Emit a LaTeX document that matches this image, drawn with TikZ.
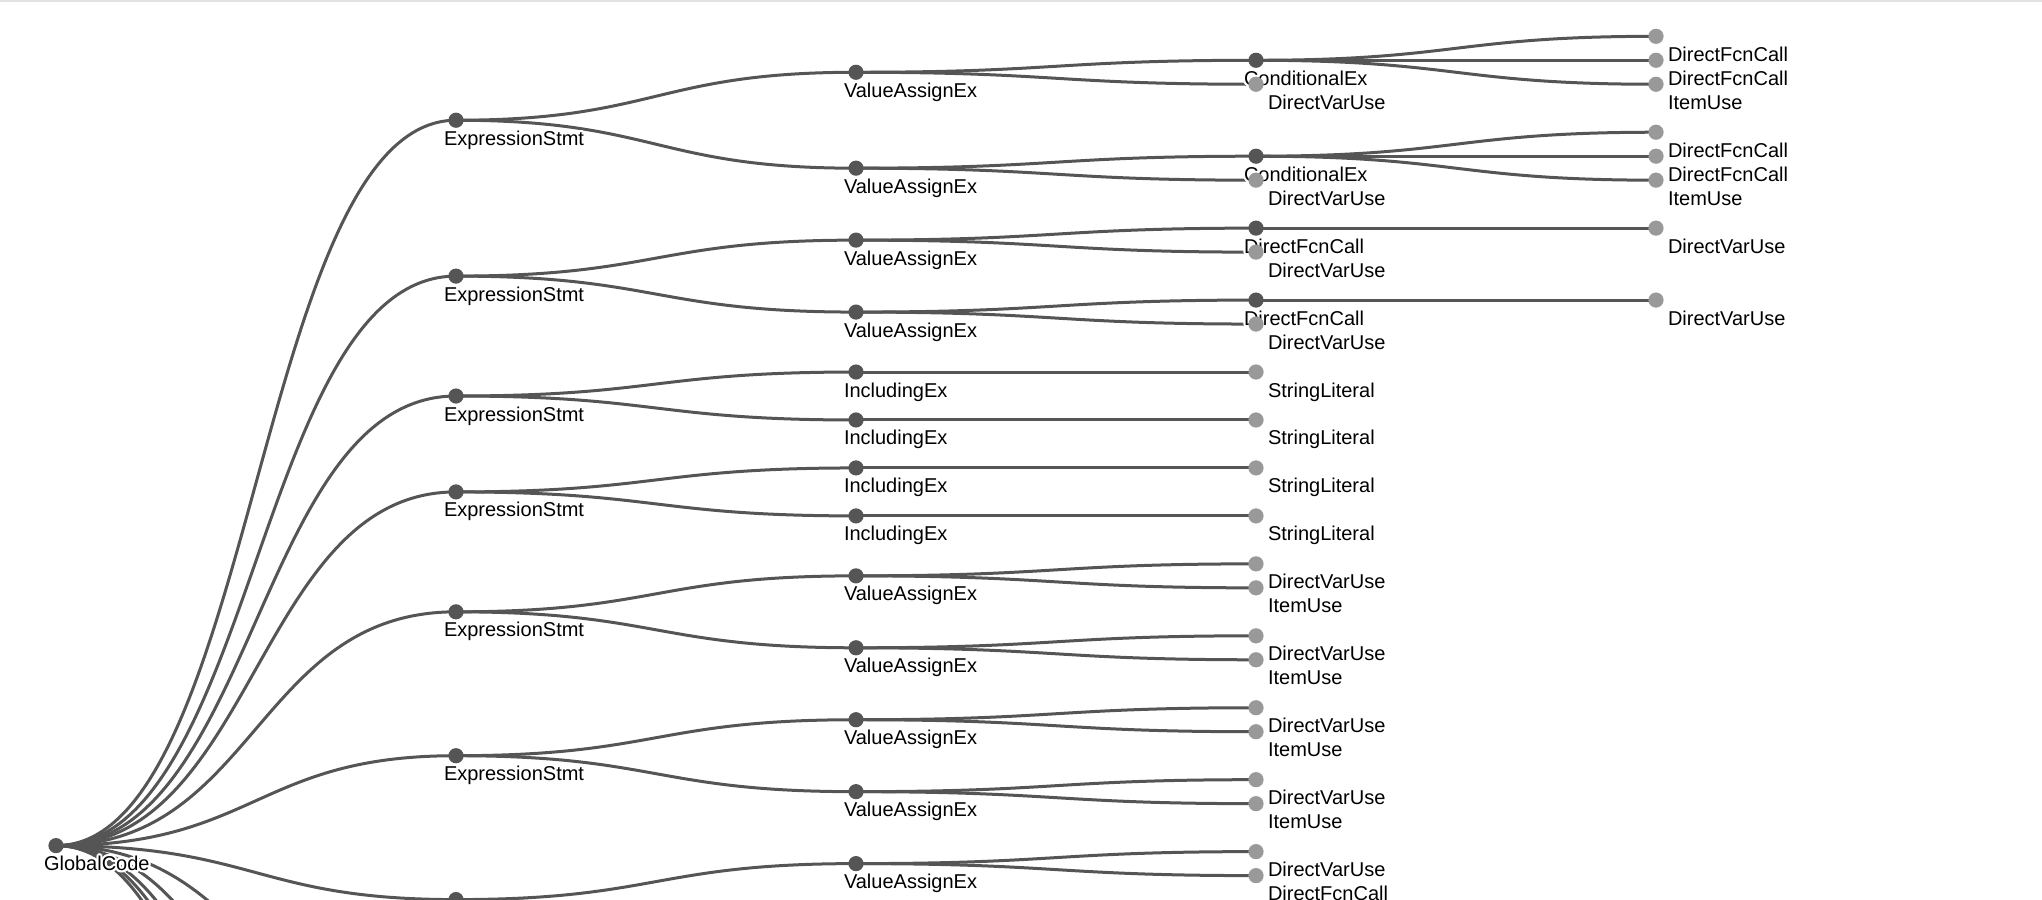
\documentclass[tikz,border=0pt]{standalone}
\usepackage{fontspec}
\setmainfont{Liberation Sans}
\usepackage[copies]{contour}
\contourlength{1pt}
\usetikzlibrary{calc}
\pgfdeclarelayer{background}
\pgfsetlayers{background,main}
\definecolor{linkc}{HTML}{555555}
\definecolor{innerc}{HTML}{555555}
\definecolor{leafc}{HTML}{999999}
\definecolor{framec}{HTML}{E2E2E2}
\newcommand\UnitY{23.98}
\newcommand\TopY{36.3}
\tikzset{
  idot/.style={circle, fill=innerc, draw=none, minimum size=7.6pt, inner sep=0pt},
  ldot/.style={circle, fill=leafc, draw=none, minimum size=7.6pt, inner sep=0pt},
  lbl/.style={anchor=base west, inner sep=0pt, outer sep=0pt, font=\fontsize{10}{12}\selectfont, text=black},
  link/.style={draw=linkc, line width=1.5pt},
}
\newcommand\MkInner[4]{%
  \node[idot] (#1) at (#2,{\TopY+#3*\UnitY}) {};
  \node[lbl] (#1-l) at ($(#1)+(-12,25)$) {\contour{white}{#4}};%
}
\newcommand\MkLeaf[4]{%
  \node[ldot] (#1) at (#2,{\TopY+#3*\UnitY}) {};
  \node[lbl] (#1-l) at ($(#1)+(12,25)$) {\contour{white}{#4}};%
}
\begin{document}
\begin{tikzpicture}[x=0.5pt,y=-0.5pt]
\useasboundingbox (0,0) rectangle (2042,900);
\draw[framec, line width=1pt] (0,1) -- (2042,1);
% depth 0
\MkInner{gc}{56}{33.75}{GlobalCode}
% depth 1
\MkInner{es1}{456}{3.5}{ExpressionStmt}
\MkInner{es2}{456}{10}{ExpressionStmt}
\MkInner{es3}{456}{15}{ExpressionStmt}
\MkInner{es4}{456}{19}{ExpressionStmt}
\MkInner{es5}{456}{24}{ExpressionStmt}
\MkInner{es6}{456}{30}{ExpressionStmt}
\node[idot] (es7) at (456,{\TopY+36*\UnitY}) {};
\coordinate (es8) at (456,{\TopY+42.1*\UnitY});
\coordinate (es9) at (456,{\TopY+49*\UnitY});
\coordinate (es10) at (456,{\TopY+55.3*\UnitY});
\coordinate (es11) at (456,{\TopY+59.9*\UnitY});
\coordinate (es12) at (456,{\TopY+64.1*\UnitY});
% depth 2
\MkInner{va1}{856}{1.5}{ValueAssignEx}
\MkInner{va2}{856}{5.5}{ValueAssignEx}
\MkInner{va3}{856}{8.5}{ValueAssignEx}
\MkInner{va4}{856}{11.5}{ValueAssignEx}
\MkInner{ie1}{856}{14}{IncludingEx}
\MkInner{ie2}{856}{16}{IncludingEx}
\MkInner{ie3}{856}{18}{IncludingEx}
\MkInner{ie4}{856}{20}{IncludingEx}
\MkInner{va5}{856}{22.5}{ValueAssignEx}
\MkInner{va6}{856}{25.5}{ValueAssignEx}
\MkInner{va7}{856}{28.5}{ValueAssignEx}
\MkInner{va8}{856}{31.5}{ValueAssignEx}
\MkInner{va9}{856}{34.5}{ValueAssignEx}
\coordinate (va10) at (856,{\TopY+37.5*\UnitY});
% depth 3
\MkInner{ce1}{1256}{1}{ConditionalEx}
\MkLeaf{d1}{1256}{2}{DirectVarUse}
\MkInner{ce2}{1256}{5}{ConditionalEx}
\MkLeaf{d2}{1256}{6}{DirectVarUse}
\MkInner{fc3}{1256}{8}{DirectFcnCall}
\MkLeaf{d3}{1256}{9}{DirectVarUse}
\MkInner{fc4}{1256}{11}{DirectFcnCall}
\MkLeaf{d4}{1256}{12}{DirectVarUse}
\MkLeaf{sl1}{1256}{14}{StringLiteral}
\MkLeaf{sl2}{1256}{16}{StringLiteral}
\MkLeaf{sl3}{1256}{18}{StringLiteral}
\MkLeaf{sl4}{1256}{20}{StringLiteral}
\MkLeaf{d5}{1256}{22}{DirectVarUse}
\MkLeaf{iu5}{1256}{23}{ItemUse}
\MkLeaf{d6}{1256}{25}{DirectVarUse}
\MkLeaf{iu6}{1256}{26}{ItemUse}
\MkLeaf{d7}{1256}{28}{DirectVarUse}
\MkLeaf{iu7}{1256}{29}{ItemUse}
\MkLeaf{d8}{1256}{31}{DirectVarUse}
\MkLeaf{iu8}{1256}{32}{ItemUse}
\MkLeaf{d9}{1256}{34}{DirectVarUse}
\MkLeaf{fc9}{1256}{35}{DirectFcnCall}
% depth 4
\MkLeaf{a1}{1656}{0}{DirectFcnCall}
\MkLeaf{a2}{1656}{1}{DirectFcnCall}
\MkLeaf{a3}{1656}{2}{ItemUse}
\MkLeaf{a4}{1656}{4}{DirectFcnCall}
\MkLeaf{a5}{1656}{5}{DirectFcnCall}
\MkLeaf{a6}{1656}{6}{ItemUse}
\MkLeaf{a7}{1656}{8}{DirectVarUse}
\MkLeaf{a8}{1656}{11}{DirectVarUse}
% links
\begin{pgfonlayer}{background}
\begin{scope}
\clip (0,0) rectangle (2042,900);
\foreach \a/\b in {gc/es1,gc/es2,gc/es3,gc/es4,gc/es5,gc/es6,gc/es7,gc/es8,gc/es9,gc/es10,gc/es11,gc/es12,
  es1/va1,es1/va2,es2/va3,es2/va4,es3/ie1,es3/ie2,es4/ie3,es4/ie4,es5/va5,es5/va6,es6/va7,es6/va8,es7/va9,es7/va10,
  va1/ce1,va1/d1,va2/ce2,va2/d2,va3/fc3,va3/d3,va4/fc4,va4/d4,ie1/sl1,ie2/sl2,ie3/sl3,ie4/sl4,
  va5/d5,va5/iu5,va6/d6,va6/iu6,va7/d7,va7/iu7,va8/d8,va8/iu8,va9/d9,va9/fc9,
  ce1/a1,ce1/a2,ce1/a3,ce2/a4,ce2/a5,ce2/a6,fc3/a7,fc4/a8}
  {\draw[link] (\a.center) .. controls +(200,0) and +(-200,0) .. (\b.center);}
\end{scope}
\end{pgfonlayer}
\end{tikzpicture}
\end{document}
